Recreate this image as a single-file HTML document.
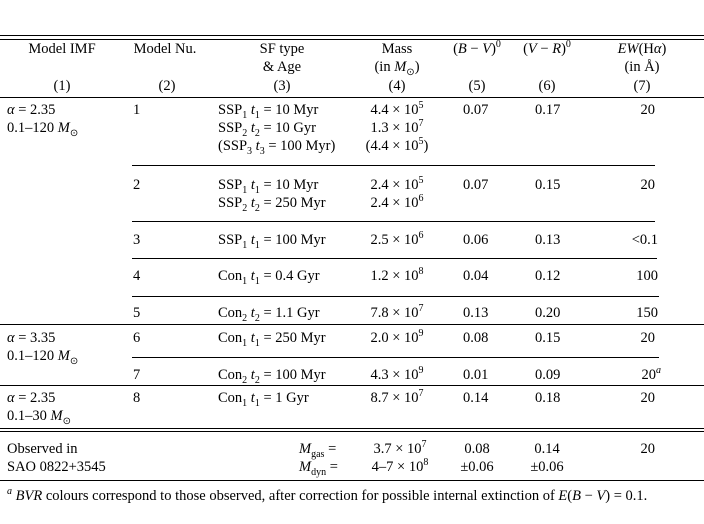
<!DOCTYPE html>
<html><head><meta charset="utf-8"><style>
body{margin:0;background:#fff;}
#t{position:relative;width:704px;height:524px;font-family:"Liberation Serif",serif;font-size:14.5px;color:#000;overflow:hidden}
#t div{position:absolute;line-height:18px;white-space:nowrap}
.c{width:180px;margin-left:-90px;text-align:center}
.r{width:100px;margin-left:-100px;text-align:right}
.h{height:0;border-top:1px solid #000}
sub,sup{font-size:10px;line-height:0}
i{font-style:italic}
</style></head><body>
<div id="t">
<div class="h" style="left:0;width:704px;top:35px"></div>
<div class="h" style="left:0;width:704px;top:39px"></div>
<div class="c" style="left:62px;top:40px">Model IMF</div>
<div class="c" style="left:165px;top:40px">Model Nu.</div>
<div class="c" style="left:282px;top:40px">SF type<br>&amp; Age</div>
<div class="c" style="left:397px;top:40px">Mass<br>(in <i>M</i><sub>⊙</sub>)</div>
<div class="c" style="left:477px;top:40px">(<i>B</i> − <i>V</i>)<sup>0</sup></div>
<div class="c" style="left:547px;top:40px">(<i>V</i> − <i>R</i>)<sup>0</sup></div>
<div class="c" style="left:642px;top:40px"><i>EW</i>(H<i>α</i>)<br>(in Å)</div>
<div class="c" style="left:62px;top:77px">(1)</div>
<div class="c" style="left:167px;top:77px">(2)</div>
<div class="c" style="left:282px;top:77px">(3)</div>
<div class="c" style="left:397px;top:77px">(4)</div>
<div class="c" style="left:477px;top:77px">(5)</div>
<div class="c" style="left:547px;top:77px">(6)</div>
<div class="c" style="left:642px;top:77px">(7)</div>
<div class="h" style="left:0;width:704px;top:97px"></div>

<div style="left:7px;top:101px"><i>α</i> = 2.35<br>0.1–120 <i>M</i><sub>⊙</sub></div>
<div style="left:133px;top:101px">1</div>
<div style="left:218px;top:101px">SSP<sub>1</sub> <i>t</i><sub>1</sub> = 10 Myr<br>SSP<sub>2</sub> <i>t</i><sub>2</sub> = 10 Gyr<br>(SSP<sub>3</sub> <i>t</i><sub>3</sub> = 100 Myr)</div>
<div class="c" style="left:397px;top:101px">4.4 × 10<sup>5</sup><br>1.3 × 10<sup>7</sup><br>(4.4 × 10<sup>5</sup>)</div>
<div style="left:463px;top:101px">0.07</div>
<div style="left:535px;top:101px">0.17</div>
<div class="r" style="left:655px;top:101px">20</div>
<div class="h" style="left:132px;width:523px;top:165px"></div>

<div style="left:133px;top:176px">2</div>
<div style="left:218px;top:176px">SSP<sub>1</sub> <i>t</i><sub>1</sub> = 10 Myr<br>SSP<sub>2</sub> <i>t</i><sub>2</sub> = 250 Myr</div>
<div class="c" style="left:397px;top:176px">2.4 × 10<sup>5</sup><br>2.4 × 10<sup>6</sup></div>
<div style="left:463px;top:176px">0.07</div>
<div style="left:535px;top:176px">0.15</div>
<div class="r" style="left:655px;top:176px">20</div>
<div class="h" style="left:132px;width:523px;top:221px"></div>

<div style="left:133px;top:231px">3</div>
<div style="left:218px;top:231px">SSP<sub>1</sub> <i>t</i><sub>1</sub> = 100 Myr</div>
<div class="c" style="left:397px;top:231px">2.5 × 10<sup>6</sup></div>
<div style="left:463px;top:231px">0.06</div>
<div style="left:535px;top:231px">0.13</div>
<div class="r" style="left:658px;top:231px">&lt;0.1</div>
<div class="h" style="left:132px;width:525px;top:258px"></div>

<div style="left:133px;top:267px">4</div>
<div style="left:218px;top:267px">Con<sub>1</sub> <i>t</i><sub>1</sub> = 0.4 Gyr</div>
<div class="c" style="left:397px;top:267px">1.2 × 10<sup>8</sup></div>
<div style="left:463px;top:267px">0.04</div>
<div style="left:535px;top:267px">0.12</div>
<div class="r" style="left:658px;top:267px">100</div>
<div class="h" style="left:132px;width:527px;top:296px"></div>

<div style="left:133px;top:304px">5</div>
<div style="left:218px;top:304px">Con<sub>2</sub> <i>t</i><sub>2</sub> = 1.1 Gyr</div>
<div class="c" style="left:397px;top:304px">7.8 × 10<sup>7</sup></div>
<div style="left:463px;top:304px">0.13</div>
<div style="left:535px;top:304px">0.20</div>
<div class="r" style="left:658px;top:304px">150</div>
<div class="h" style="left:0;width:704px;top:324px"></div>

<div style="left:7px;top:329px"><i>α</i> = 3.35<br>0.1–120 <i>M</i><sub>⊙</sub></div>
<div style="left:133px;top:329px">6</div>
<div style="left:218px;top:329px">Con<sub>1</sub> <i>t</i><sub>1</sub> = 250 Myr</div>
<div class="c" style="left:397px;top:329px">2.0 × 10<sup>9</sup></div>
<div style="left:463px;top:329px">0.08</div>
<div style="left:535px;top:329px">0.15</div>
<div class="r" style="left:655px;top:329px">20</div>
<div class="h" style="left:132px;width:527px;top:357px"></div>

<div style="left:133px;top:366px">7</div>
<div style="left:218px;top:366px">Con<sub>2</sub> <i>t</i><sub>2</sub> = 100 Myr</div>
<div class="c" style="left:397px;top:366px">4.3 × 10<sup>9</sup></div>
<div style="left:463px;top:366px">0.01</div>
<div style="left:535px;top:366px">0.09</div>
<div class="r" style="left:661px;top:366px">20<sup><i>a</i></sup></div>
<div class="h" style="left:0;width:704px;top:385px"></div>

<div style="left:7px;top:389px"><i>α</i> = 2.35<br>0.1–30 <i>M</i><sub>⊙</sub></div>
<div style="left:133px;top:389px">8</div>
<div style="left:218px;top:389px">Con<sub>1</sub> <i>t</i><sub>1</sub> = 1 Gyr</div>
<div class="c" style="left:397px;top:389px">8.7 × 10<sup>7</sup></div>
<div style="left:463px;top:389px">0.14</div>
<div style="left:535px;top:389px">0.18</div>
<div class="r" style="left:655px;top:389px">20</div>
<div class="h" style="left:0;width:704px;top:428px"></div>
<div class="h" style="left:0;width:704px;top:431px"></div>

<div style="left:7px;top:440px">Observed in<br>SAO 0822+3545</div>
<div style="left:299px;top:440px"><i>M</i><sub>gas</sub> =<br><i>M</i><sub>dyn</sub> =</div>
<div class="c" style="left:400px;top:440px">3.7 × 10<sup>7</sup><br>4–7 × 10<sup>8</sup></div>
<div class="c" style="left:477px;top:440px">0.08<br>±0.06</div>
<div class="c" style="left:547px;top:440px">0.14<br>±0.06</div>
<div class="r" style="left:655px;top:440px">20</div>
<div class="h" style="left:0;width:704px;top:480px"></div>
<div style="left:7px;top:487px"><sup><i>a</i></sup> <i>BVR</i> colours correspond to those observed, after correction for possible internal extinction of <i>E</i>(<i>B</i> − <i>V</i>) = 0.1.</div>
</div>
</body></html>
